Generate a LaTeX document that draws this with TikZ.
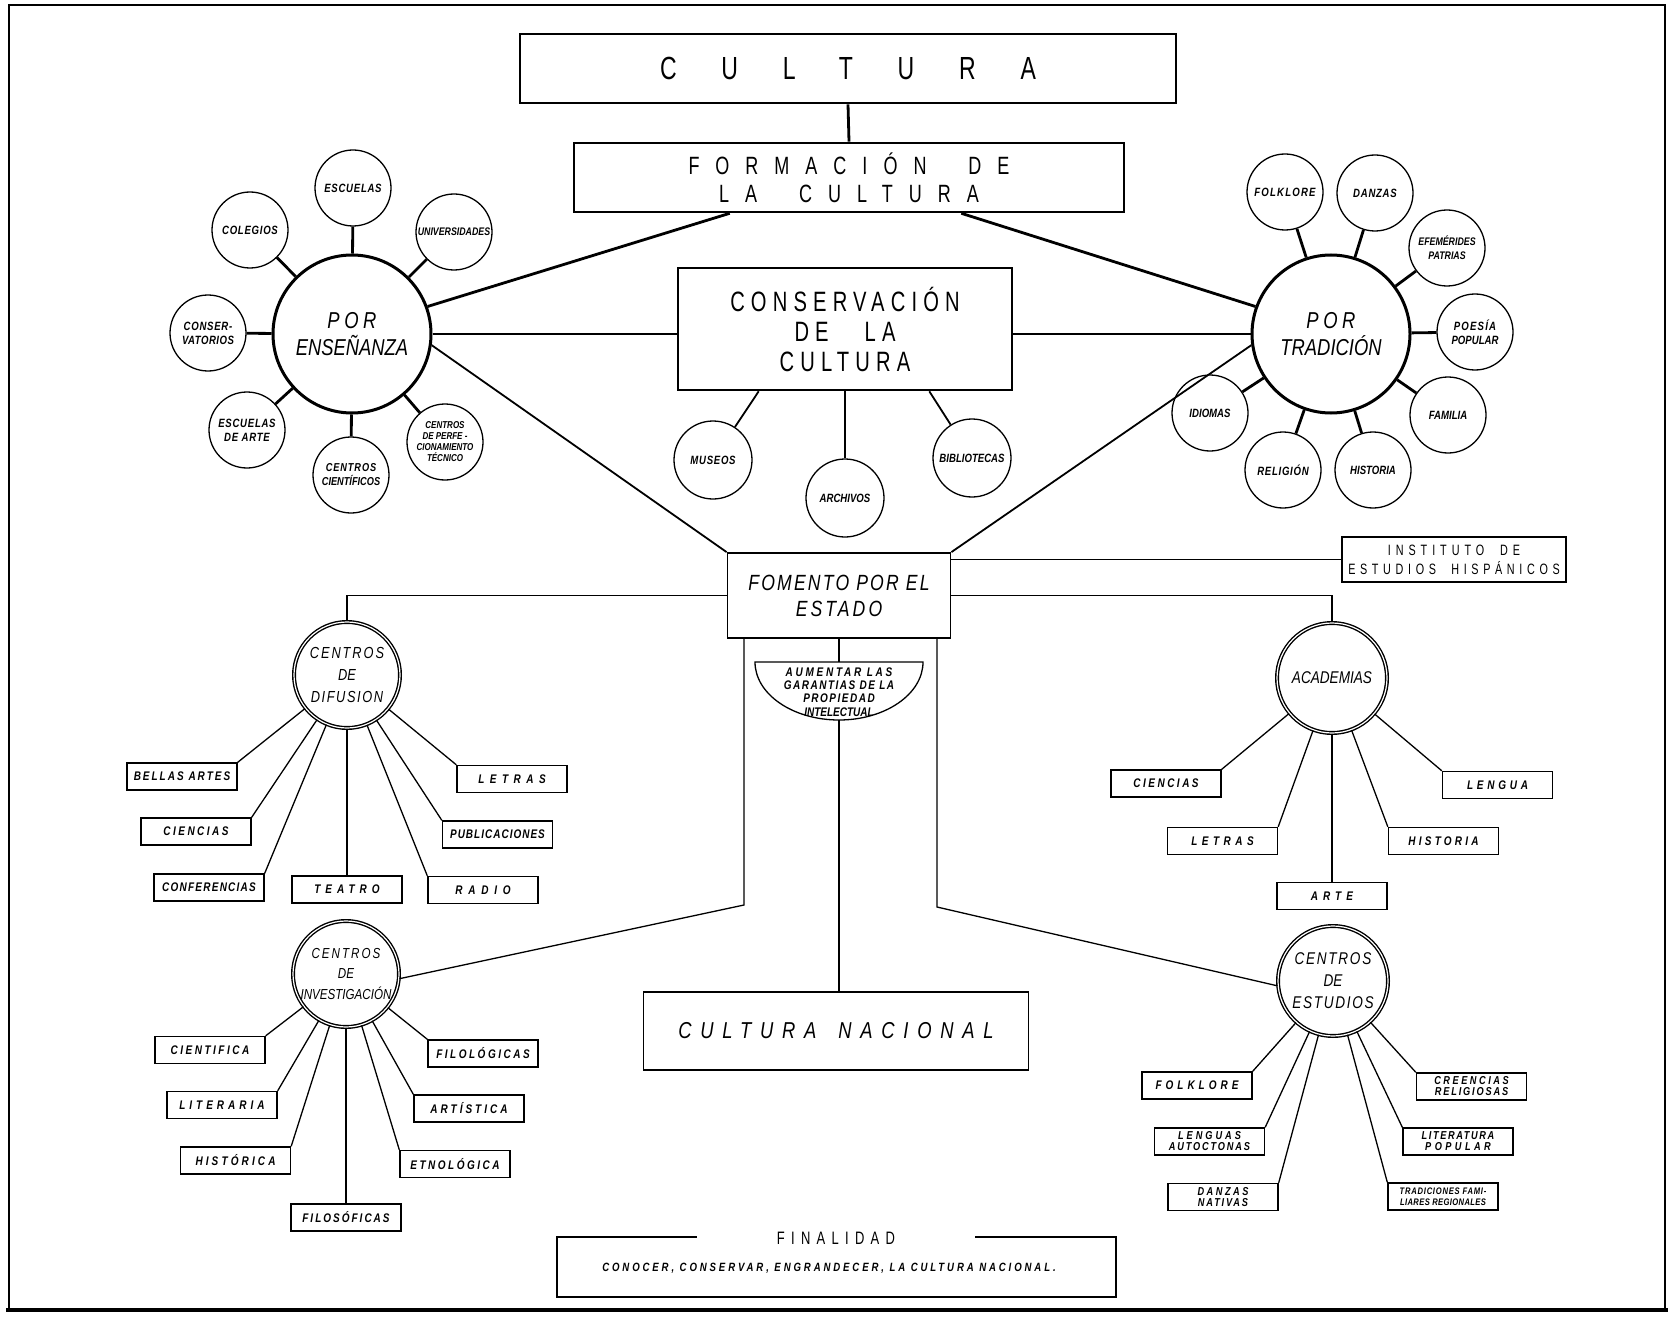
\documentclass[tikz,border=0pt]{standalone}
\usepackage{fontspec}
\setmainfont{Liberation Sans}
\newfontfamily\tf[FakeStretch=0.72]{Liberation Sans}
\newfontfamily\hw[FakeStretch=0.8]{Liberation Sans}
\usetikzlibrary{calc}
\newcommand\lsp[2]{{\addfontfeatures{LetterSpace=#1}#2}}
\tikzset{
  thk/.style={line width=2.8pt},
  med/.style={line width=1.8pt},
  thn/.style={line width=1.3pt},
  tbox/.style={draw, line width=2.6pt, rectangle, inner sep=0pt, align=center},
  hub/.style={draw, circle, line width=3pt, minimum size=158pt, inner sep=0pt, align=center, font=\hw\itshape\fontsize{23}{27}\selectfont},
  sat/.style={draw, circle, line width=1.3pt, minimum size=76pt, inner sep=0pt, align=center, font=\hw\itshape\bfseries\fontsize{12}{14}\selectfont},
  dhub/.style={draw, circle, double, double distance=1.2pt, line width=1.4pt, minimum size=106pt, inner sep=0pt, align=center, font=\hw\itshape\fontsize{16}{22}\selectfont},
  leaf/.style={draw, rectangle, line width=1.4pt, minimum width=110pt, minimum height=27pt, inner sep=0pt, align=center, font=\hw\itshape\bfseries\fontsize{12.5}{11}\selectfont},
  leaf2/.style={leaf, font=\hw\itshape\bfseries\fontsize{11.5}{11}\selectfont},
}
\begin{document}
\begin{tikzpicture}[x=1pt,y=-1pt]
\fill[white] (0,0) rectangle (1673,1324);
\draw[line width=1.5pt] (9,1310) -- (9,5) -- (1665,5) -- (1665,1310);
\draw[line width=4pt] (6,1310) -- (1668,1310);

% top boxes
\node[tbox, minimum width=656pt, minimum height=69pt, font=\tf\fontsize{32}{36}\selectfont] (cul) at (848,68.5) {\lsp{140}{CULTURA}};
\node[tbox, minimum width=550pt, minimum height=69pt, font=\tf\fontsize{25}{28}\selectfont] (form) at (849,177.5) {\lsp{64}{FORMACIÓN\ \ DE}\\\lsp{64}{LA\ \ CULTURA}};
\node[tbox, minimum width=334pt, minimum height=122pt, font=\tf\fontsize{28}{30}\selectfont] (cons) at (845,329) {\lsp{22}{CONSERVACIÓN}\\\lsp{22}{DE}\hspace{36pt}\lsp{22}{LA}\\\lsp{22}{CULTURA}};
\draw[thk] (cul.south) -- (form.north);

% hubs
\node[hub] (ens) at (352,334) {\lsp{20}{POR}\\ENSEÑANZA};
\node[hub] (trad) at (1331,334) {\lsp{20}{POR}\\TRADICIÓN};

% satellites of ENSEÑANZA
\node[sat] (e1) at (353,188) {\lsp{6}{ESCUELAS}};
\node[sat] (e2) at (250,230) {\lsp{6}{COLEGIOS}};
\node[sat, font=\hw\itshape\bfseries\fontsize{11}{13}\selectfont] (e3) at (454,232) {UNIVERSIDADES};
\node[sat] (e4) at (208,333) {\lsp{6}{CONSER-}\\\lsp{4}{VATORIOS}};
\node[sat] (e5) at (247,430) {\lsp{6}{ESCUELAS}\\\lsp{6}{DE ARTE}};
\node[sat, font=\hw\itshape\bfseries\fontsize{11.5}{14}\selectfont] (e6) at (351,475) {\lsp{8}{CENTROS}\\CIENTÍFICOS};
\node[sat, font=\hw\itshape\bfseries\fontsize{10}{11}\selectfont] (e7) at (445,442) {CENTROS\\DE PERFE -\\CIONAMIENTO\\TÉCNICO};
\foreach \s in {e1,e2,e3,e4,e5,e6,e7} \draw[thk] (ens) -- (\s);

% satellites of TRADICIÓN
\node[sat] (t1) at (1285,192) {\lsp{10}{FOLKLORE}};
\node[sat] (t2) at (1375,193) {\lsp{6}{DANZAS}};
\node[sat, font=\hw\itshape\bfseries\fontsize{11}{14}\selectfont] (t3) at (1447,248) {EFEMÉRIDES\\PATRIAS};
\node[sat] (t4) at (1475,332) {\lsp{10}{POESÍA}\\POPULAR};
\node[sat] (t5) at (1448,415) {FAMILIA};
\node[sat] (t6) at (1373,470) {HISTORIA};
\node[sat] (t7) at (1283,470) {\lsp{6}{RELIGIÓN}};
\node[sat] (t8) at (1210,413) {IDIOMAS};
\foreach \s in {t1,t2,t3,t4,t5,t6,t7,t8} \draw[thk] (trad) -- (\s);

% satellites of CONSERVACIÓN
\node[sat, minimum size=78pt] (c1) at (713,460) {\lsp{6}{MUSEOS}};
\node[sat, minimum size=78pt] (c2) at (845,498) {ARCHIVOS};
\node[sat, minimum size=78pt] (c3) at (972,458) {BIBLIOTECAS};
\draw[med] ([xshift=82pt]cons.south west) -- (c1);
\draw[med] (cons.south) -- (c2);
\draw[med] ([xshift=-84pt]cons.south east) -- (c3);

% hub connections
\draw[thk] (ens.20) -- ([xshift=157pt]form.south west);
\draw[thk] (trad.160) -- ([xshift=-164pt]form.south east);
\draw[thk] (ens.east) -- (ens.east -| cons.west);
\draw[thk] (cons.east |- trad.west) -- (trad.west);

% FOMENTO
\node[tbox, line width=1.8pt, minimum width=223pt, minimum height=85pt, font=\hw\itshape\fontsize{22}{26}\selectfont] (fom) at (839,595.5) {\lsp{10}{FOMENTO POR EL}\\\lsp{14}{ESTADO}};
\draw[med] (ens.-8) -- (fom.north west);
\draw[med] (trad.188) -- (fom.north east);

\node[tbox, line width=1.4pt, minimum width=224pt, minimum height=45pt, font=\tf\fontsize{15}{19}\selectfont] (inst) at (1454,559.5) {\lsp{33}{INSTITUTO\ \ DE}\\\lsp{31}{ESTUDIOS\ \ HISPÁNICOS}};
\draw[thn] (inst.west -| fom.east) -- (inst.west);

% lower hubs
\node[dhub] (dif) at (347,675) {\lsp{12}{CENTROS}\\DE\\\lsp{10}{DIFUSION}};
\node[dhub, minimum size=110pt, font=\hw\itshape\fontsize{17}{22}\selectfont] (aca) at (1332,678) {ACADEMIAS};
\node[dhub, font=\hw\itshape\fontsize{14.5}{20}\selectfont] (inv) at (346,974) {\lsp{14}{CENTROS}\\DE\\INVESTIGACIÓN};
\node[dhub, minimum size=110pt, font=\hw\itshape\fontsize{17}{22}\selectfont] (est) at (1333,981) {\lsp{10}{CENTROS}\\DE\\\lsp{10}{ESTUDIOS}};

\draw[thn] (fom.west) -- (fom.west -| dif.north) -- (dif.north);
\draw[thn] (fom.east) -- (fom.east -| aca.north) -- (aca.north);

% AUMENTAR
\draw[thn] (755,662) -- (923,662) arc[start angle=0, end angle=180, x radius=84, y radius=58] -- cycle;
\node[font=\hw\itshape\bfseries\fontsize{12.5}{13.3}\selectfont, align=center, inner sep=0pt] (aum) at (839,692) {\lsp{22}{AUMENTAR LAS}\\\lsp{12}{GARANTIAS DE LA}\\\lsp{12}{PROPIEDAD}\\INTELECTUAL};
\coordinate (aumtop) at (839,662);
\coordinate (aumbot) at (839,720);

\node[draw, line width=1.4pt, minimum width=385pt, minimum height=78pt, font=\hw\itshape\fontsize{23}{26}\selectfont] (nac) at (836,1031) {\lsp{38}{CULTURA}\hspace{22pt}\lsp{38}{NACIONAL}};

\draw[thn] (fom.south) -- (fom.south |- aumtop);
\draw[thn] (aumbot) -- (aumbot |- nac.north);
\coordinate (lbend) at (744,905);
\coordinate (rbend) at (937,907);
\draw[thn] (lbend |- fom.south) -- (lbend) -- (inv.-5);
\draw[thn] (rbend |- fom.south) -- (rbend) -- (est.185);

% Difusion leaves
\node[leaf] (d1) at (182,776.5) {\lsp{16}{BELLAS ARTES}};
\node[leaf] (d2) at (512,779) {\lsp{44}{LETRAS}};
\node[leaf] (d3) at (196,831.5) {\lsp{20}{CIENCIAS}};
\node[leaf] (d4) at (497.5,834.5) {\lsp{8}{PUBLICACIONES}};
\node[leaf] (d5) at (209,887.5) {\lsp{10}{CONFERENCIAS}};
\node[leaf] (d6) at (347,889.5) {\lsp{40}{TEATRO}};
\node[leaf] (d7) at (483,890) {\lsp{46}{RADIO}};
\foreach \s in {d1,d3,d5} \draw[thn] (\s.north east) -- (dif);
\foreach \s in {d2,d4,d7} \draw[thn] (\s.north west) -- (dif);
\draw[thn] (dif.south) -- (d6.north);

% Academias leaves
\node[leaf] (a1) at (1166,783.5) {\lsp{20}{CIENCIAS}};
\node[leaf] (a2) at (1497.5,785) {\lsp{30}{LENGUA}};
\node[leaf] (a3) at (1222.5,841) {\lsp{36}{LETRAS}};
\node[leaf] (a4) at (1443.5,841) {\lsp{26}{HISTORIA}};
\node[leaf] (a5) at (1332,896) {\lsp{40}{ARTE}};
\foreach \s in {a1,a3} \draw[thn] (\s.north east) -- (aca);
\foreach \s in {a2,a4} \draw[thn] (\s.north west) -- (aca);
\draw[thn] (aca.south) -- (a5.north);

% Investigacion leaves
\node[leaf] (i1) at (210,1050) {\lsp{20}{CIENTIFICA}};
\node[leaf] (i2) at (483,1053.5) {\lsp{20}{FILOLÓGICAS}};
\node[leaf] (i3) at (222,1105) {\lsp{32}{LITERARIA}};
\node[leaf] (i4) at (469,1108.5) {\lsp{24}{ARTÍSTICA}};
\node[leaf] (i5) at (235.5,1160.5) {\lsp{25}{HISTÓRICA}};
\node[leaf] (i6) at (455,1164) {\lsp{20}{ETNOLÓGICA}};
\node[leaf] (i7) at (346,1217.5) {\lsp{16}{FILOSÓFICAS}};
\foreach \s in {i1,i3,i5} \draw[thn] (\s.north east) -- (inv);
\foreach \s in {i2,i4,i6} \draw[thn] (\s.north west) -- (inv);
\draw[thn] (inv.south) -- (i7.north);

% Estudios leaves
\node[leaf] (s1) at (1197,1085.5) {\lsp{32}{FOLKLORE}};
\node[leaf2] (s2) at (1471.5,1086.5) {\lsp{22}{CREENCIAS}\\\lsp{16}{RELIGIOSAS}};
\node[leaf2] (s3) at (1209.5,1141.5) {\lsp{26}{LENGUAS}\\\lsp{16}{AUTOCTONAS}};
\node[leaf2] (s4) at (1458,1141.5) {\lsp{14}{LITERATURA}\\\lsp{30}{POPULAR}};
\node[leaf2] (s5) at (1223,1197) {\lsp{22}{DANZAS}\\\lsp{16}{NATIVAS}};
\node[leaf, font=\hw\itshape\bfseries\fontsize{9.5}{10.5}\selectfont] (s6) at (1443,1196.5) {\lsp{8}{TRADICIONES FAMI-}\\\lsp{4}{LIARES REGIONALES}};
\foreach \s in {s1,s3,s5} \draw[thn] (\s.north east) -- (est);
\foreach \s in {s2,s4,s6} \draw[thn] (\s.north west) -- (est);

% FINALIDAD
\node[draw, line width=1.4pt, minimum width=559pt, minimum height=60pt, inner sep=0pt] (fin) at (836.5,1267) {};
\node[fill=white, inner xsep=80pt, inner ysep=2pt, font=\tf\fontsize{18}{20}\selectfont] (fint) at (836,1238) {\lsp{35}{FINALIDAD}};
\node[font=\hw\itshape\bfseries\fontsize{12}{12}\selectfont, inner sep=0pt] (fintxt) at (829,1268) {\lsp{24}{CONOCER, CONSERVAR, ENGRANDECER, LA CULTURA NACIONAL.}};
\end{tikzpicture}
\end{document}
